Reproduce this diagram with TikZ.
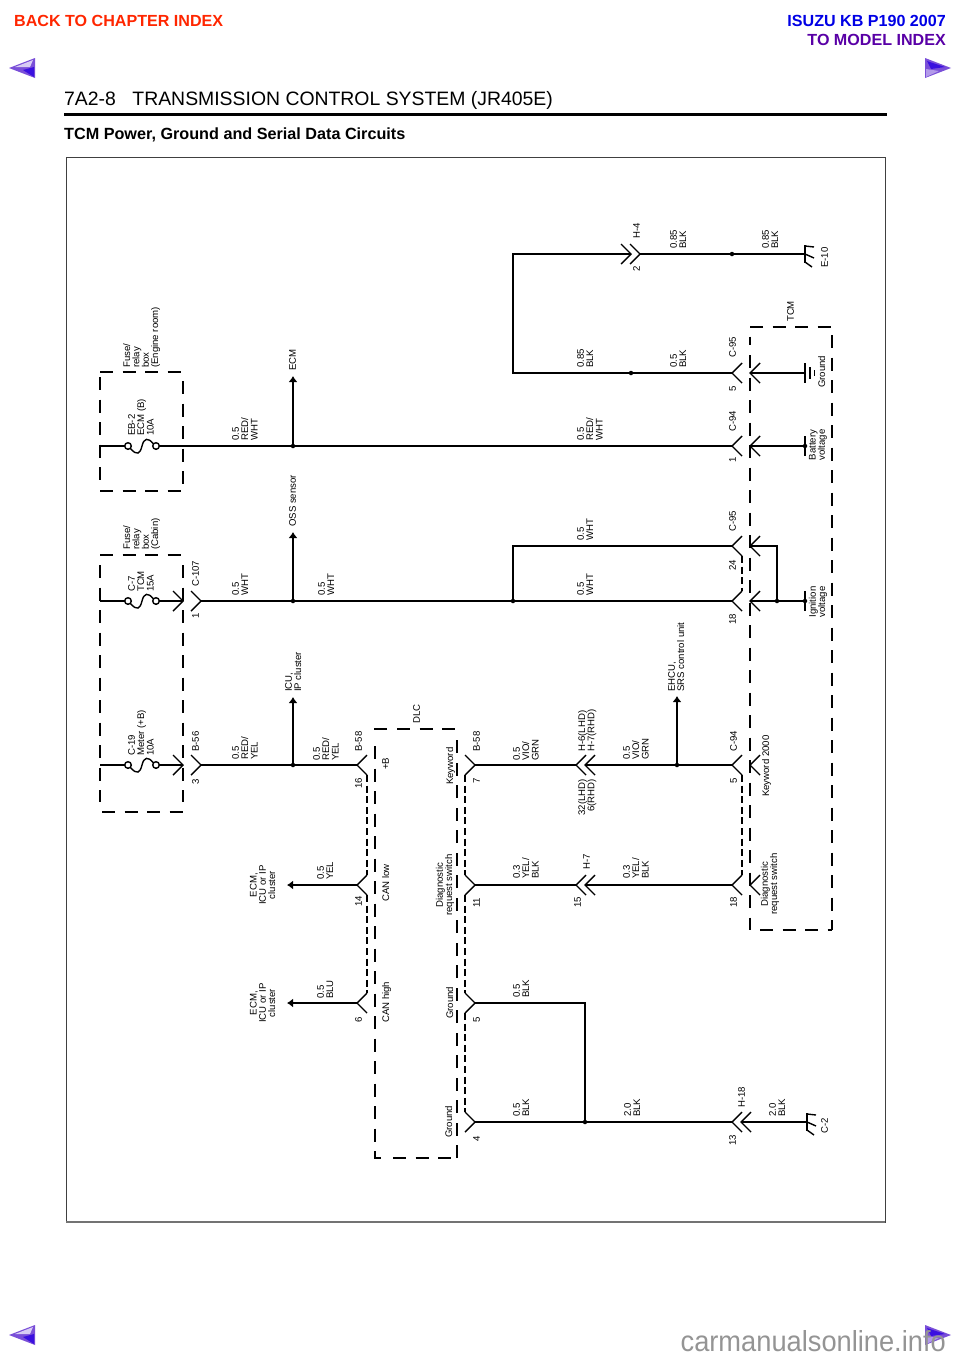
\documentclass[tikz,border=0pt]{standalone}
\usepackage{fontspec}
\setmainfont{Liberation Sans}
\newfontfamily\markfont[FakeStretch=0.94]{Liberation Sans}
\usetikzlibrary{positioning,calc,arrows.meta}

\definecolor{navfill}{HTML}{7A4FD8}
\definecolor{navdark}{HTML}{3A10E0}
\definecolor{navlite}{HTML}{D8CCF4}
\tikzset{
  lbl/.style={rotate=90,anchor=north west,align=left,inner sep=0pt,font=\fontsize{9.6}{9.3}\selectfont},
  lblc/.style={lbl,anchor=center,align=center},
  lblr/.style={lbl,anchor=north east,align=right},
  wire/.style={line width=1.4pt},
  dbox/.style={line width=1.4pt,dash pattern=on 13pt off 9.5pt},
  shld/.style={line width=1.2pt,dash pattern=on 7pt off 3.6pt},
  dot/.style={circle,fill,inner sep=0pt,minimum size=4.5pt},
  ptr/.style={wire,-{Latex[length=6pt,width=9pt]}},
  chevr/.pic={\draw[wire,line join=miter] (-10,-10) -- (0,0) -- (-10,10);},
  chevl/.pic={\draw[wire,line join=miter] (10,-10) -- (0,0) -- (10,10);},
  gndchassis/.pic={\draw[wire] (0,-9) -- (0,9);
    \draw[wire] (0,-8) -- (9,-7) (0,0) -- (9,4) (0,8) -- (7,13);},
  fuseS/.pic={\draw[wire] (0,0) circle (3.3);
    \draw[wire] (28,0) circle (3.3);
    \draw[wire] (2.5,2.5) .. controls (9,10) and (12,8) .. (14,0) .. controls (16,-8) and (20,-9) .. (25.5,-2);},
  navl/.pic={\fill[navfill] (0,0) -- (26,-10) -- (26,10) -- cycle;
    \fill[navlite] (6,-1) -- (24,-8) -- (21,-1) -- cycle;
    \fill[navdark] (14,2) -- (25,9) -- (25,-1) -- cycle;},
  navr/.pic={\fill[navfill] (0,0) -- (-26,-10) -- (-26,10) -- cycle;
    \fill[navdark] (-6,-1) -- (-24,-7) -- (-20,1) -- cycle;
    \fill[navlite!60!navfill] (-12,3) -- (-25,9) -- (-25,1) -- cycle;},
}

\begin{document}
\begin{tikzpicture}[x=1pt,y=-1pt]
\useasboundingbox (0,0) rectangle (960,1358);

% page head
\node[anchor=base west,inner sep=0pt,font=\bfseries\fontsize{16.1}{16}\selectfont,text=orange!30!red] (back) at (14,26) {BACK TO CHAPTER INDEX};
\node[anchor=base east,inner sep=0pt,font=\bfseries\fontsize{16.1}{16}\selectfont,text=blue!90!black] (isuzu) at (946,26) {ISUZU KB P190 2007};
\node[anchor=base east,inner sep=0pt,font=\bfseries\fontsize{16.1}{16}\selectfont,text=violet!70!blue] (model) at (946,45) {TO MODEL INDEX};
\node[anchor=base west,inner sep=0pt,font=\fontsize{19.4}{20}\selectfont] (head) at (64,105) {7A2-8\hspace{16.5pt}TRANSMISSION CONTROL SYSTEM (JR405E)};
\node[anchor=base west,inner sep=0pt,font=\bfseries\fontsize{16.2}{16}\selectfont] (title) at (64,139) {TCM Power, Ground and Serial Data Circuits};
\fill (64,112.5) rectangle (887,116);
\pic at (9,68) {navl};
\pic at (951,68) {navr};
\pic at (9,1335) {navl};
\pic at (951,1335) {navr};

% frame
\draw[line width=0.6pt,black!75] (66,157) rectangle (885,1222);
\draw[line width=1.2pt,black!55] (66,1222) -- (885,1222);

% dashed boxes
\draw[dbox] (100,372) -- (183,372);
\draw[dbox] (100,491) -- (183,491);
\draw[dbox] (100,377) -- (100,484);
\draw[dbox] (183,381) -- (183,484);

\draw[dbox] (100,555) -- (183,555);
\draw[dbox] (102,812) -- (183,812);
\draw[dbox] (100,565) -- (100,802);
\draw[dbox] (183,565) -- (183,802);

\draw[dbox] (387,729) -- (375,729) -- (375,737);
\draw[dbox] (397,729) -- (457,729);
\draw[dbox] (375,746) -- (375,1151);
\draw[dbox] (375,1151) -- (375,1158) -- (382,1158);
\draw[dbox] (393,1158) -- (451,1158);
\draw[dbox] (457,1158) -- (457,738);

\draw[dbox] (763,327) -- (750,327) -- (750,345);
\draw[dbox] (772.5,327) -- (832,327);
\draw[dbox] (750,355) -- (750,930);
\draw[dbox] (760,930) -- (832,930);
\draw[dbox] (832,335) -- (832,930);

% wire ends
\coordinate (f1) at (100,446);
\coordinate (f2) at (100,601);
\coordinate (f3) at (100,765);
\coordinate (c1) at (159,446);
\coordinate (c2) at (159,601);
\coordinate (c3) at (159,765);
\coordinate (r1) at (124.7,446);
\coordinate (r2) at (124.7,601);
\coordinate (r3) at (124.7,765);
\coordinate (a1) at (183,601);
\coordinate (a2) at (183,765);
\coordinate (b1) at (201,601);
\coordinate (b2) at (201,765);
\coordinate (h4a) at (631,254);
\coordinate (h4b) at (640,254);
\coordinate (e10) at (805,254);
\coordinate (k1) at (513,254);
\coordinate (k2) at (513,373);
\coordinate (k3) at (513,546);
\coordinate (k4) at (513,601);
\coordinate (t2) at (732,373);
\coordinate (t3) at (732,446);
\coordinate (t4) at (732,546);
\coordinate (t5) at (732,601);
\coordinate (t6) at (732,765);
\coordinate (t7) at (732,885);
\coordinate (u2) at (750,373);
\coordinate (u3) at (750,446);
\coordinate (u4) at (750,546);
\coordinate (u5) at (750,601);
\coordinate (u6) at (750,765);
\coordinate (u7) at (750,885);
\coordinate (g2) at (805,373);
\coordinate (g3) at (805,446);
\coordinate (g5) at (805,601);
\coordinate (j4) at (777,546);
\coordinate (j5) at (777,601);
\coordinate (d1) at (357,765);
\coordinate (d2) at (357,885);
\coordinate (d3) at (357,1003);
\coordinate (p1) at (287,885);
\coordinate (p2) at (287,1003);
\coordinate (m1) at (475,765);
\coordinate (m2) at (475,885);
\coordinate (m3) at (475,1003);
\coordinate (m4) at (475,1122);
\coordinate (h6a) at (576,765);
\coordinate (h6b) at (585,765);
\coordinate (h7a) at (576,885);
\coordinate (h7b) at (585,885);
\coordinate (n1) at (585,1003);
\coordinate (n2) at (585,1122);
\coordinate (h18a) at (732,1122);
\coordinate (h18b) at (741,1122);
\coordinate (c2g) at (807,1122);
\coordinate (v1) at (293,446);
\coordinate (v2) at (293,601);
\coordinate (v3) at (293,765);
\coordinate (v4) at (677,765);
\coordinate (w1) at (293,376);
\coordinate (w2) at (293,532);
\coordinate (w3) at (293,697);
\coordinate (w4) at (677,696);
\coordinate (s0) at (732,254);
\coordinate (s00) at (631,373);

% chevrons
\foreach \cc in {a1,a2,b1,b2,m1,m2,m3,m4,h4a,h4b}{
  \pic at (\cc) {chevr};
}
\foreach \cc in {t2,t3,t4,t5,t6,t7,u2,u3,u4,u5,u6,u7,d1,d2,d3,h6a,h6b,h7a,h7b,h18a,h18b}{
  \pic at (\cc) {chevl};
}

% fuses
\pic at (128,446) {fuseS};
\pic at (128,601) {fuseS};
\pic at (128,765) {fuseS};

% wires
\draw[wire] (f1) -- (r1);
\draw[wire] (f2) -- (r2);
\draw[wire] (f3) -- (r3);
\draw[wire] (c1) -- (t3);
\draw[wire] (c2) -- (a1);
\draw[wire] (c3) -- (a2);
\draw[wire] (b1) -- (t5);
\draw[wire] (b2) -- (d1);
\draw[wire] (h4a) -- (k1) -- (k2) -- (t2);
\draw[wire] (h4b) -- (e10);
\draw[wire] (k4) -- (k3) -- (t4);
\draw[wire] (u2) -- (g2);
\draw[wire] (u3) -- (g3);
\draw[wire] (u4) -- (j4) -- (j5);
\draw[wire] (u5) -- (g5);
\draw[wire] (m1) -- (h6a);
\draw[wire] (h6b) -- (t6);
\draw[wire] (m2) -- (h7a);
\draw[wire] (h7b) -- (t7);
\draw[wire] (m3) -- (n1) -- (n2);
\draw[wire] (m4) -- (h18a);
\draw[wire] (h18b) -- (c2g);
\draw[ptr] (d2) -- (p1);
\draw[ptr] (d3) -- (p2);
\draw[ptr] (v1) -- (w1);
\draw[ptr] (v2) -- (w2);
\draw[ptr] (v3) -- (w3);
\draw[ptr] (v4) -- (w4);

% splices
\foreach \jj in {v1,v2,v3,v4,k4,j5,n2,s0,s00,g3,g5}{
  \node[dot] at (\jj) {};
}

% shields
\draw[shld] (367,775) -- (367,875);
\draw[shld] (367,895) -- (367,993);
\draw[shld] (465,775) -- (465,875);
\draw[shld] (465,895) -- (465,993);
\draw[shld] (465,1013) -- (465,1112);
\draw[shld] (742,556) -- (742,591);
\draw[shld] (742,775) -- (742,875);

% ground marks
\draw[wire] (805,363) -- (805,383);
\draw[wire] (810,367) -- (810,379);
\draw[wire] (814.5,370) -- (814.5,376);
\draw[wire] (805,436) -- (805,456);
\draw[wire] (805,591) -- (805,611);
\pic at (e10) {gndchassis};
\pic at (c2g) {gndchassis};

% box labels
\node[lbl] (fuse1) at (123,368) {Fuse/\\relay\\box\\(Engine room)};
\node[lbl] (fuse2) at (123,550) {Fuse/\\relay\\box\\(Cabin)};
\node[lbl] (eb2) at (128,436) {EB-2\\ECM (B)\\10A};
\node[lbl] (c7) at (128,592) {C-7\\TCM\\15A};
\node[lbl] (c19) at (128,756) {C-19\\Meter (+B)\\10A};
\node[lbl] (dlc) at (413,724) {DLC};
\node[lbl] (tcm) at (787,322) {TCM};

% connector names
\node[lbl] (c107) at (192,587) {C-107};
\node[lbl] (n107) at (192,619) {1};
\node[lbl] (b56) at (192,752) {B-56};
\node[lbl] (n56) at (192,785) {3};
\node[lbl] (b58a) at (355,752) {B-58};
\node[lbl] (n16) at (355,789) {16};
\node[lbl] (n14) at (355,907) {14};
\node[lbl] (n6) at (355,1023) {6};
\node[lbl] (b58b) at (473,752) {B-58};
\node[lbl] (n7) at (473,784) {7};
\node[lbl] (n11) at (473,908) {11};
\node[lbl] (n5a) at (473,1023) {5};
\node[lbl] (n4) at (473,1142) {4};
\node[lbl] (h67) at (578,752) {H-6(LHD)\\H-7(RHD)};
\node[lblr] (n32) at (578,779) {32(LHD)\\6(RHD)};
\node[lbl] (h7) at (583,870) {H-7};
\node[lbl] (n15) at (574,908) {15};
\node[lbl] (h18) at (738,1108) {H-18};
\node[lbl] (n13) at (729,1146) {13};
\node[lbl] (c2n) at (821,1134) {C-2};
\node[lbl] (h4n) at (633,239) {H-4};
\node[lbl] (n2a) at (633,272) {2};
\node[lbl] (e10n) at (821,268) {E-10};
\node[lbl] (c95a) at (729,358) {C-95};
\node[lbl] (n5b) at (729,392) {5};
\node[lbl] (c94a) at (729,432) {C-94};
\node[lbl] (n1a) at (729,463) {1};
\node[lbl] (c95b) at (729,532) {C-95};
\node[lbl] (n24) at (729,571) {24};
\node[lbl] (n18a) at (729,625) {18};
\node[lbl] (c94b) at (730,752) {C-94};
\node[lbl] (n5c) at (730,784) {5};
\node[lbl] (n18b) at (730,908) {18};

% wire sizes
\node[lbl] (s1) at (232,441) {0.5\\RED/\\WHT};
\node[lbl] (s2) at (232,596) {0.5\\WHT};
\node[lbl] (s3) at (232,760) {0.5\\RED/\\YEL};
\node[lbl] (s4) at (318,596) {0.5\\WHT};
\node[lbl] (s5) at (313,761) {0.5\\RED/\\YEL};
\node[lbl] (s6) at (317,880) {0.5\\YEL};
\node[lbl] (s7) at (317,999) {0.5\\BLU};
\node[lbl] (s8) at (513,761) {0.5\\VIO/\\GRN};
\node[lbl] (s9) at (513,879) {0.3\\YEL/\\BLK};
\node[lbl] (s10) at (513,998) {0.5\\BLK};
\node[lbl] (s11) at (513,1117) {0.5\\BLK};
\node[lbl] (s12) at (624,1117) {2.0\\BLK};
\node[lbl] (s13) at (769,1117) {2.0\\BLK};
\node[lbl] (s14) at (623,760) {0.5\\VIO/\\GRN};
\node[lbl] (s15) at (623,879) {0.3\\YEL/\\BLK};
\node[lbl] (s16) at (670,249) {0.85\\BLK};
\node[lbl] (s17) at (762,249) {0.85\\BLK};
\node[lbl] (s18) at (577,368) {0.85\\BLK};
\node[lbl] (s19) at (670,368) {0.5\\BLK};
\node[lbl] (s20) at (577,441) {0.5\\RED/\\WHT};
\node[lbl] (s21) at (577,541) {0.5\\WHT};
\node[lbl] (s22) at (577,596) {0.5\\WHT};

% destinations and pins
\node[lbl] (ecm) at (289,371) {ECM};
\node[lbl] (oss) at (289,527) {OSS sensor};
\node[lbl] (icu) at (285,692) {ICU,\\IP cluster};
\node[lbl] (ehcu) at (668,692) {EHCU,\\SRS control unit};
\node[lblc] (cl1) at (262.5,885) {ECM,\\ICU or IP\\cluster};
\node[lblc] (cl2) at (262.5,1003) {ECM,\\ICU or IP\\cluster};
\node[lbl] (plusb) at (382,770) {+B};
\node[lbl] (canl) at (382,902) {CAN low};
\node[lbl] (canh) at (382,1023) {CAN high};
\node[lbl] (key1) at (446,785) {Keyword};
\node[lblc] (diag1) at (445,885) {Diagnostic\\request switch};
\node[lbl] (gnd1) at (446,1019) {Ground};
\node[lbl] (gnd2) at (445,1138) {Ground};
\node[lbl] (key2) at (762,797) {Keyword 2000};
\node[lblc] (diag2) at (770,884) {Diagnostic\\request switch};
\node[lbl] (gnd3) at (818,388) {Ground};
\node[lblc] (batt) at (818,445) {Battery\\voltage};
\node[lblc] (ign) at (818,602) {Ignition\\voltage};

% watermark
\node[anchor=base east,inner sep=0pt,font=\markfont\fontsize{29}{29}\selectfont,text=black!42] (mark) at (946,1351) {carmanualsonline.info};
\end{tikzpicture}
\end{document}
